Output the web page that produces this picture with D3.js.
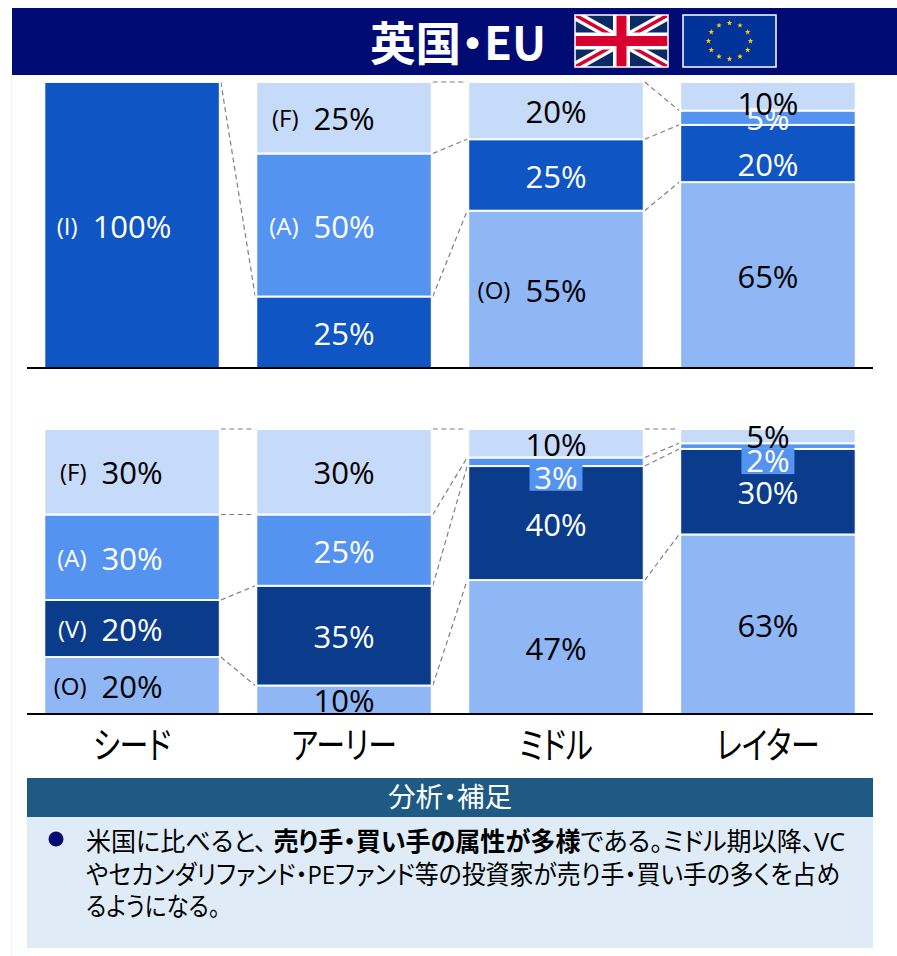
<!DOCTYPE html>
<html><head><meta charset="utf-8">
<script src="https://cdn.jsdelivr.net/npm/d3@7"></script>
<style>html,body{margin:0;padding:0;background:#fff}svg{display:block}
text{font-family:"Open Sans","Noto Sans CJK JP",sans-serif;font-feature-settings:"palt"}</style></head>
<body><svg id="c" width="897" height="956"></svg>
<script>
const stages=["シード","アーリー","ミドル","レイター"];
const topO=[0,0,55,65], topI=[100,25,25,20], topA=[0,50,0,5], topF=[0,25,20,10];
const botO=[20,10,47,63], botV=[20,35,40,30], botA=[30,25,3,2], botF=[30,30,10,5];
// connector levels between neighbouring stages: [left stage, level on left, level on right]
const topLinks=[[0,100,25],[1,100,100],[1,75,80],[1,25,55],[2,100,90],[2,80,85],[2,55,65]];
const botLinks=[[0,100,100],[0,70,70],[0,40,45],[0,20,10],[1,100,100],[1,70,90],[1,45,87],[1,10,47],[2,100,100],[2,90,95],[2,87,93],[2,47,63]];
const topPrefix={"O2":"(O)","I0":"(I)","A1":"(A)","F1":"(F)"};
const botPrefix={"F0":"(F)","A0":"(A)","V0":"(V)","O0":"(O)"};
const colors={O:"#8fb6f5",I:"#0f55c3",V:"#0b3c8c",A:"#5593f1",F:"#c6daf9"};
const textColor={O:"#000",I:"#fff",V:"#fff",A:"#fff",F:"#000"};
const title="英国・EU", panelTitle="分析・補足";
const noteLines=[
 {len:759,parts:[["米国に比べると、 ",0],["売り手・買い手の属性が多様",1],["である。ミドル期以降、VC",0]]},
 {len:754,parts:[["やセカンダリファンド・PEファンド等の投資家が売り手・買い手の多くを占め",0]]},
 {len:134,parts:[["るようになる。",0]]}];

const svg=d3.select("#c");
const squeeze=(sel,r)=>sel.each(function(){const t=this.getComputedTextLength();
  d3.select(this).attr("textLength",t*r).attr("lengthAdjust","spacingAndGlyphs");});
const CJK='"Noto Sans CJK JP",sans-serif';

// page frame + title
svg.append("line").attr("x1",11.5).attr("x2",11.5).attr("y1",75).attr("y2",956).attr("stroke","#f4f4f4");
svg.append("rect").attr("x",12).attr("y",8).attr("width",885).attr("height",67).attr("fill","#000b73");
svg.append("text").text(title).attr("x",458).attr("y",60).attr("text-anchor","middle")
  .attr("fill","#fff").attr("font-size",46).attr("font-weight",700).style("font-family",CJK).each(function(){
    d3.select(this).attr("textLength",176).attr("lengthAdjust","spacingAndGlyphs");});

// UK flag
(function(){
  const w=93,h=52;
  const defs=svg.append("defs").append("clipPath").attr("id","uk");
  defs.append("rect").attr("width",w).attr("height",h);
  const g=svg.append("g").attr("transform","translate(575,15)");
  const f=g.append("g").attr("clip-path","url(#uk)");
  f.append("rect").attr("width",w).attr("height",h).attr("fill","#0a2a66");
  const l=(a,b,c,d,col,sw)=>f.append("line").attr("x1",a).attr("y1",b).attr("x2",c).attr("y2",d).attr("stroke",col).attr("stroke-width",sw);
  l(0,0,w,h,"#fff",10);l(0,h,w,0,"#fff",10);
  l(0,0,w,h,"#d8002e",3.5);l(0,h,w,0,"#d8002e",3.5);
  l(w/2,0,w/2,h,"#fff",17);l(0,h/2,w,h/2,"#fff",17);
  l(w/2,0,w/2,h,"#d8002e",10);l(0,h/2,w,h/2,"#d8002e",10);
  g.append("rect").attr("width",w).attr("height",h).attr("fill","none").attr("stroke","#fff").attr("stroke-width",1.5);
})();
// EU flag
(function(){
  const g=svg.append("g").attr("transform","translate(683,15)"),w=93,h=52;
  g.append("rect").attr("width",w).attr("height",h).attr("fill","#003399").attr("stroke","#fff").attr("stroke-width",1.5);
  const star=d3.range(10).map(i=>{const r=i%2?1.2:3,a=i*Math.PI/5;return [r*Math.sin(a),-r*Math.cos(a)];});
  g.selectAll("path").data(d3.range(12)).join("path")
   .attr("d",d3.line()(star)+"Z").attr("fill","#ffcc00")
   .attr("transform",i=>{const a=i*Math.PI/6;return `translate(${w/2+21*Math.sin(a)},${h/2-18*Math.cos(a)})`;});
})();

const x=d3.scaleBand().domain(stages).range([44.3,855.7]).paddingInner(0.172);

// label nudges (px below segment centre) for crowded cells
const nudgeTop={"F3":8,"I3":11};
const nudgeBot={"A2":16,"A3":15,"F3":1};

function panel(yTop,yBase,series,links,prefix,nudge,boxed){
  const keys=series.map(s=>s[0]);
  const rows=stages.map((s,i)=>Object.fromEntries([["stage",s],...series.map(([k,v])=>[k,v[i]])]));
  const stacked=d3.stack().keys(keys)(rows);
  const y=d3.scaleLinear().domain([0,100]).range([yBase,yTop]);
  const g=svg.append("g");
  // dashed connectors
  g.selectAll("line.link").data(links).join("line").attr("class","link")
   .attr("x1",d=>x(stages[d[0]])+x.bandwidth()+1).attr("x2",d=>x(stages[d[0]+1])-1)
   .attr("y1",d=>y(d[1])).attr("y2",d=>y(d[2]))
   .attr("stroke","#7f7f7f").attr("stroke-width",1.2).attr("stroke-dasharray","5 3.5");
  // bars
  stacked.forEach(layer=>{
    g.selectAll(null).data(layer.filter(d=>d[1]>d[0])).join("rect")
     .attr("x",d=>x(d.data.stage)).attr("width",x.bandwidth())
     .attr("y",d=>y(d[1])).attr("height",d=>y(d[0])-y(d[1]))
     .attr("fill",colors[layer.key]).attr("stroke","#fff").attr("stroke-opacity",.95).attr("stroke-width",2);
  });
  // labels
  stacked.forEach(layer=>{
    layer.forEach((d,i)=>{
      if(d[1]<=d[0])return;
      const k=layer.key, id=k+i, cx=x(stages[i])+x.bandwidth()/2;
      const cy=(y(d[0])+y(d[1]))/2+(nudge[id]!==undefined?nudge[id]:1.5);
      const v=d[1]-d[0];
      if(boxed.includes(id))
        g.append("rect").attr("x",cx-26.5).attr("width",53).attr("y",cy-13).attr("height",26).attr("fill",colors[k]);
      const t=g.append("text").text(v+"%").attr("x",cx).attr("y",cy).attr("dy","0.36em")
        .attr("text-anchor","middle").attr("font-size",31).attr("fill",textColor[k]);
      if(prefix[id]){
        const w=t.node().getComputedTextLength();
        g.append("text").text(prefix[id]).attr("x",cx-w/2-15).attr("y",cy).attr("dy","0.34em")
         .attr("text-anchor","end").attr("font-size",24).attr("fill",textColor[k]);
      }
    });
  });
  // baseline (drawn last, it covers text that touches it)
  g.append("line").attr("x1",27).attr("x2",873).attr("y1",yBase).attr("y2",yBase).attr("stroke","#000").attr("stroke-width",2);
}
panel(82,368,[["O",topO],["I",topI],["A",topA],["F",topF]],topLinks,topPrefix,nudgeTop,[]);
panel(429,714,[["O",botO],["V",botV],["A",botA],["F",botF]],botLinks,botPrefix,nudgeBot,["A2","A3"]);

// stage axis
const ax=svg.append("g").attr("transform","translate(0,714)").call(d3.axisBottom(x).tickSize(0));
ax.select(".domain").remove();
ax.selectAll("text").attr("y",14).attr("dy","0.85em").attr("font-size",37).attr("fill","#000")
  .style("font-family",CJK).call(squeeze,.78);

// notes panel
svg.append("rect").attr("x",27).attr("y",778).attr("width",846).attr("height",39).attr("fill","#1f5a85");
svg.append("text").text(panelTitle).attr("x",450).attr("y",807).attr("text-anchor","middle")
  .attr("fill","#fff").attr("font-size",27).style("font-family",CJK).each(function(){
    d3.select(this).attr("textLength",124).attr("lengthAdjust","spacingAndGlyphs");});
svg.append("rect").attr("x",27).attr("y",817).attr("width",846).attr("height",131).attr("fill","#dfecf7");
svg.append("ellipse").attr("cx",56).attr("cy",839).attr("rx",7.5).attr("ry",7.5).attr("fill","#000b73");
const note=svg.append("g").style("font-family",CJK).attr("font-size",26).attr("fill","#000");
noteLines.forEach((ln,i)=>{
  const t=note.append("text").attr("x",86).attr("y",851+i*32.5).attr("xml:space","preserve").style("white-space","pre")
    .attr("textLength",ln.len).attr("lengthAdjust","spacingAndGlyphs");
  ln.parts.forEach(p=>t.append("tspan").text(p[0]).attr("font-weight",p[1]?700:400));
});
</script></body></html>
